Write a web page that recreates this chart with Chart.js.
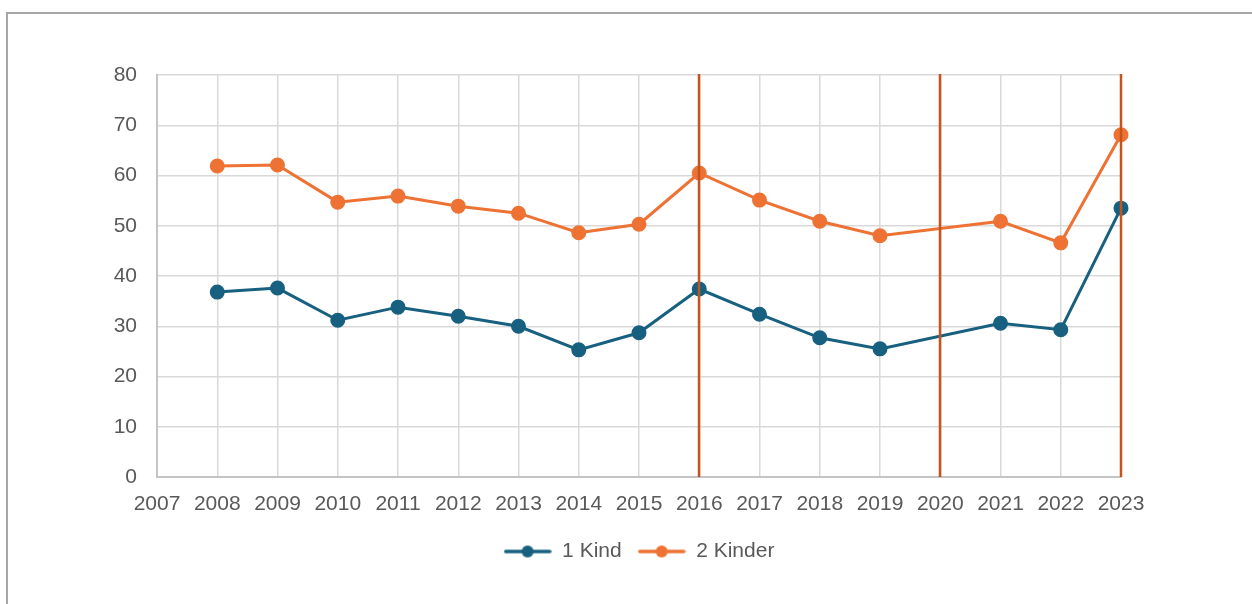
<!DOCTYPE html>
<html>
<head>
<meta charset="utf-8">
<script src="https://cdn.jsdelivr.net/npm/chart.js@4"></script>
<style>
  body { margin: 0; background: #fff; overflow: hidden; }
  .frame { position: absolute; left: 6px; top: 12px; width: 1400px; height: 800px;
           border-top: 2px solid #a6a6a6; border-left: 2px solid #a6a6a6; }
  canvas { position: absolute; left: 0; top: 0; }
</style>
</head>
<body>
<div class="frame"></div>
<canvas id="myChart" width="1252" height="604"></canvas>
<script>
const years = ["2007", "2008", "2009", "2010", "2011", "2012", "2013", "2014", "2015",
  "2016", "2017", "2018", "2019", "2020", "2021", "2022", "2023"];
const einKind = [null, 36.8, 37.6, 31.2, 33.8, 32.0, 30.0, 25.3, 28.7,
  37.4, 32.4, 27.7, 25.5, null, 30.6, 29.3, 53.5];
const zweiKinder = [null, 61.9, 62.1, 54.7, 55.9, 53.9, 52.5, 48.6, 50.3,
  60.5, 55.1, 50.9, 48.0, null, 50.9, 46.6, 68.1];
const markerYears = ["2016", "2020", "2023"];

const blue = "#17607f";
const orange = "#ed7233";

// legend marker: short line with a dot in the middle
function legendMarker(color) {
  const c = document.createElement("canvas");
  c.width = 48; c.height = 14;
  const g = c.getContext("2d");
  g.strokeStyle = color; g.lineWidth = 3.5; g.lineCap = "round";
  g.beginPath(); g.moveTo(2, 7); g.lineTo(46, 7); g.stroke();
  g.fillStyle = color;
  g.beginPath(); g.arc(24, 7, 6, 0, Math.PI * 2); g.fill();
  return c;
}

const markerLines = {
  id: "markerLines",
  afterDatasetsDraw(chart) {
    const { ctx, chartArea, scales } = chart;
    ctx.save();
    ctx.strokeStyle = "#c5531c";
    ctx.lineWidth = 2.5;
    markerYears.forEach(y => {
      const x = Math.round(scales.x.getPixelForValue(years.indexOf(y)));
      ctx.beginPath();
      ctx.moveTo(x, chartArea.top - 1);
      ctx.lineTo(x, chartArea.bottom);
      ctx.stroke();
    });
    ctx.restore();
  }
};

// centre the legend under the plot area instead of the whole canvas
const legendUnderPlot = {
  id: "legendUnderPlot",
  afterLayout(chart) {
    chart.legend.left = chart.chartArea.left;
    chart.legend.right = chart.chartArea.right;
  }
};

Chart.defaults.font.family = "'Liberation Sans', Arial, sans-serif";
Chart.defaults.font.size = 21;
Chart.defaults.color = "#595959";

const ctx = document.getElementById("myChart").getContext("2d");
const myChart = new Chart(ctx, {
  type: "line",
  data: {
    labels: years,
    datasets: [
      {
        label: "1 Kind",
        data: einKind,
        borderColor: blue,
        backgroundColor: blue,
        borderWidth: 3,
        pointRadius: 6,
        spanGaps: true
      },
      {
        label: "2 Kinder",
        data: zweiKinder,
        borderColor: orange,
        backgroundColor: orange,
        borderWidth: 3,
        pointRadius: 6,
        spanGaps: true
      }
    ]
  },
  options: {
    responsive: false,
    animation: false,
    layout: { padding: { top: 75, right: 131, bottom: 32, left: 0 } },
    plugins: {
      tooltip: { enabled: false },
      legend: {
        position: "bottom",
        labels: {
          usePointStyle: true,
          pointStyleWidth: 48,
          boxHeight: 14,
          padding: 16,
          generateLabels(chart) {
            return chart.data.datasets.map((ds, i) => ({
              text: ds.label,
              pointStyle: legendMarker(ds.borderColor),
              fillStyle: ds.borderColor,
              strokeStyle: ds.borderColor,
              lineWidth: 0,
              fontColor: "#595959",
              datasetIndex: i
            }));
          }
        }
      }
    },
    scales: {
      x: {
        offset: false,
        grid: { color: "#d9d9d9", lineWidth: 1.5, drawTicks: false },
        border: { color: "#c4c4c4", width: 2 },
        ticks: { padding: 15, maxRotation: 0, autoSkip: false },
        afterFit(s) { s.height = 48; }
      },
      y: {
        min: 0,
        max: 80,
        grid: { color: "#d9d9d9", lineWidth: 1.5, drawTicks: false },
        border: { color: "#c4c4c4", width: 2 },
        ticks: { stepSize: 10, padding: 20 },
        afterFit(s) { s.width = 157; }
      }
    }
  },
  plugins: [markerLines, legendUnderPlot]
});
</script>
</body>
</html>
